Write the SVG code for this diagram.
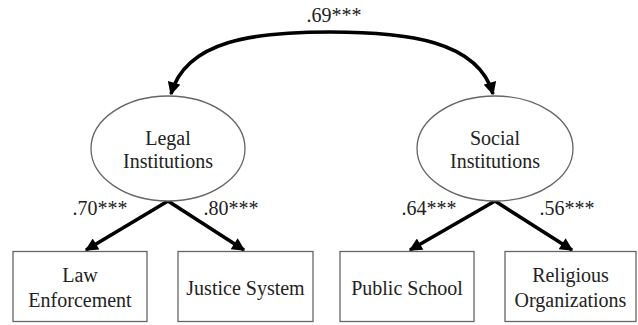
<svg xmlns="http://www.w3.org/2000/svg" width="638" height="325" viewBox="0 0 638 325">
<defs>
<marker id="ah" viewBox="0 0 10 10" refX="9" refY="5" markerWidth="4" markerHeight="3.6" orient="auto" markerUnits="strokeWidth">
<path d="M0,0 L10,5 L0,10 z" fill="#000"/>
</marker>
</defs>
<rect width="638" height="325" fill="#fff"/>
<g id="connectors" fill="none" stroke="#000" stroke-width="3.6">
<path d="M330,32 C255,32 186,40 171,94" marker-end="url(#ah)"/>
<path d="M330,32 C405,32 478,40 493,94" marker-end="url(#ah)"/>
<line x1="168" y1="201" x2="86" y2="250" marker-end="url(#ah)"/>
<line x1="168" y1="201" x2="244" y2="250" marker-end="url(#ah)"/>
<line x1="495" y1="201" x2="410" y2="250" marker-end="url(#ah)"/>
<line x1="495" y1="201" x2="572" y2="250" marker-end="url(#ah)"/>
</g>
<g id="labels" font-family="Liberation Serif" font-size="20" fill="#222" text-anchor="middle">
<text x="334" y="22">.69***</text>
<text x="100" y="215">.70***</text>
<text x="231" y="215">.80***</text>
<text x="429" y="215">.64***</text>
<text x="567" y="215">.56***</text>
</g>
<g font-family="Liberation Serif" font-size="20" fill="#222" text-anchor="middle">
<g id="legal">
<ellipse cx="168" cy="148.5" rx="77" ry="52.5" fill="#fff" stroke="#666" stroke-width="1.3"/>
<text x="168" y="145">Legal</text>
<text x="168" y="168">Institutions</text>
</g>
<g id="social">
<ellipse cx="495" cy="148.5" rx="78" ry="52.5" fill="#fff" stroke="#666" stroke-width="1.3"/>
<text x="495" y="145">Social</text>
<text x="495" y="168">Institutions</text>
</g>
<g id="law">
<rect x="13" y="251.5" width="134" height="70" fill="#fff" stroke="#666" stroke-width="1.3"/>
<text x="80" y="282">Law</text>
<text x="80" y="307">Enforcement</text>
</g>
<g id="justice">
<rect x="178" y="251.5" width="135" height="70" fill="#fff" stroke="#666" stroke-width="1.3"/>
<text x="245.5" y="295">Justice System</text>
</g>
<g id="public">
<rect x="340" y="251.5" width="134" height="70" fill="#fff" stroke="#666" stroke-width="1.3"/>
<text x="407" y="295">Public School</text>
</g>
<g id="religious">
<rect x="505" y="251.5" width="131" height="70" fill="#fff" stroke="#666" stroke-width="1.3"/>
<text x="570.5" y="282">Religious</text>
<text x="570.5" y="307">Organizations</text>
</g>
</g>
</svg>
